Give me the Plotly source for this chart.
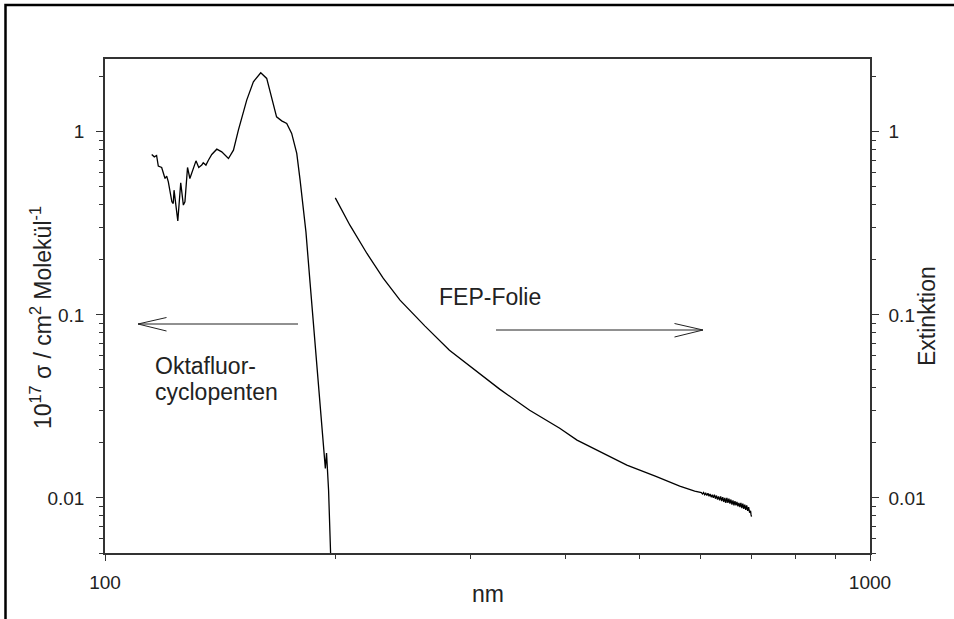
import plotly.graph_objects as go

# ---------------- data ----------------
# Oktafluorcyclopenten absorption cross section (10^17 sigma / cm^2 per molecule)
okta_nm = [115.1, 116.0, 116.8, 117.4, 118.6, 119.8, 120.4, 121.0, 122.3, 122.8,
           123.1, 123.6, 124.5, 125.6, 126.6, 127.2, 128.2, 129.1, 130.4, 131.5,
           132.6, 133.8, 134.4, 135.5, 136.5, 137.9, 140.0, 142.1, 145.0, 147.2,
           149.4, 153.2, 156.3, 159.8, 162.7, 165.2, 167.6, 170.2, 172.8, 175.4,
           178.1, 179.9, 181.5, 183.1, 185.4, 188.2, 191.0, 193.4, 194.1, 194.8,
           195.3, 196.0, 197.2, 197.7]
okta_sigma = [0.752, 0.730, 0.743, 0.650, 0.639, 0.556, 0.573, 0.533, 0.415, 0.406,
              0.480, 0.406, 0.326, 0.527, 0.398, 0.415, 0.639, 0.556, 0.623, 0.694,
              0.639, 0.658, 0.677, 0.658, 0.700, 0.752, 0.804, 0.777, 0.715, 0.794,
              1.022, 1.490, 1.876, 2.101, 1.958, 1.553, 1.208, 1.148, 1.111, 0.980,
              0.762, 0.545, 0.398, 0.283, 0.149, 0.0700, 0.0342, 0.0175, 0.0145, 0.0176,
              0.0142, 0.0110, 0.00497, 0.0040]

# FEP-Folie extinction
fep_nm = [200, 209, 220, 231, 243, 262, 282, 305, 328, 359, 393, 414, 440, 481, 524, 564,
          590, 600, 602, 604, 606, 608, 610, 612, 614, 616, 618, 620, 622, 624, 626, 628,
          630, 632, 634, 636, 638, 640, 642, 644, 646, 648, 650, 652, 654, 656, 658, 660,
          662, 664, 666, 668, 670, 672, 674, 676, 678, 680, 682, 684, 686, 688, 690, 692,
          694, 696, 698, 699, 700]
fep_ext = [0.436, 0.309, 0.2165, 0.1586, 0.1203, 0.0868, 0.0641, 0.0498, 0.0393, 0.0301,
           0.0240, 0.0207, 0.0182, 0.0151, 0.01314, 0.01159,
           0.0109, 0.01065, 0.0107, 0.0105, 0.0107, 0.0104, 0.0106, 0.0103, 0.0106, 0.0102,
           0.0105, 0.0101, 0.0104, 0.0100, 0.0104, 0.0099,
           0.0103, 0.0098, 0.0102, 0.0097, 0.0102, 0.0096, 0.0101, 0.0095, 0.0100, 0.0094,
           0.0100, 0.0094, 0.0099, 0.0093, 0.0098, 0.0092,
           0.0097, 0.0091, 0.0096, 0.0091, 0.0095, 0.0090, 0.0094, 0.0089, 0.0094, 0.0088,
           0.0093, 0.0087, 0.0092, 0.0086, 0.0091, 0.0085,
           0.0089, 0.0083, 0.0085, 0.0081, 0.0079]

x_tickvals = [100, 1000]
x_ticktext = ["100", "1000"]
x_minor = [200, 300, 400, 500, 600, 700, 800, 900]
y_tickvals = [0.01, 0.1, 1]
y_ticktext = ["0.01", "0.1", "1"]
y_minor = [0.005, 0.006, 0.007, 0.008, 0.009, 0.02, 0.03, 0.04, 0.05, 0.06, 0.07, 0.08, 0.09,
           0.2, 0.3, 0.4, 0.5, 0.6, 0.7, 0.8, 0.9, 2]

FONT = "Liberation Sans, Arial, sans-serif"
AX = "#333333"
TXT = "#222222"

# plot area in pixels (for placing decorations in paper coordinates)
L, R, T, B = 105, 870, 59, 553
W, H = 954, 619


def px(x):
    return (x - L) / (R - L)


def py(y):
    return (B - y) / (B - T)


fig = go.Figure()
fig.add_trace(go.Scatter(x=okta_nm, y=okta_sigma, mode="lines",
                         line=dict(color="black", width=1.3), yaxis="y", showlegend=False))
fig.add_trace(go.Scatter(x=fep_nm, y=fep_ext, mode="lines",
                         line=dict(color="black", width=1.3), yaxis="y2", showlegend=False))

yrange = [-2.30103, 0.39794]

common_y = dict(type="log", range=yrange, showgrid=False, zeroline=False,
                showline=True, linecolor=AX, linewidth=1.5,
                ticks="outside", ticklen=7, tickwidth=1.3, tickcolor=AX,
                tickmode="array", tickvals=y_tickvals, ticktext=y_ticktext,
                tickfont=dict(family=FONT, size=19, color=TXT),
                minor=dict(tickmode="array", tickvals=y_minor, ticks="outside",
                           ticklen=4, tickwidth=1.2, tickcolor=AX, showgrid=False))

fig.update_layout(
    width=W, height=H,
    margin=dict(l=L, r=W - R, t=T, b=H - B),
    paper_bgcolor="white", plot_bgcolor="white",
    font=dict(family=FONT, color=TXT),
    xaxis=dict(type="log", range=[2, 3], showgrid=False, zeroline=False,
               showline=True, mirror=True, linecolor=AX, linewidth=1.5,
               ticks="outside", ticklen=6, tickwidth=1.3, tickcolor=AX,
               tickmode="array", tickvals=x_tickvals, ticktext=x_ticktext,
               tickfont=dict(family=FONT, size=19, color=TXT),
               ticklabelstandoff=5,
               minor=dict(tickmode="array", tickvals=x_minor, ticks="outside",
                          ticklen=4, tickwidth=1.2, tickcolor=AX, showgrid=False)),
    yaxis=dict(**common_y, side="left", ticklabelstandoff=8),
    yaxis2=dict(**common_y, side="right", overlaying="y", ticklabelstandoff=6),
)

# axis titles placed as annotations for exact positions
title_font = dict(family=FONT, size=23, color=TXT)
fig.add_annotation(xref="paper", yref="paper", x=px(488), y=py(594), text="nm",
                   showarrow=False, xanchor="center", yanchor="middle", font=title_font)
fig.add_annotation(xref="paper", yref="paper", x=px(41), y=py(318),
                   text="10<sup>17</sup> σ / cm<sup>2</sup> Molekül<sup>-1</sup>",
                   textangle=-90, showarrow=False, xanchor="center", yanchor="middle",
                   font=title_font)
fig.add_annotation(xref="paper", yref="paper", x=px(927), y=py(316), text="Extinktion",
                   textangle=-90, showarrow=False, xanchor="center", yanchor="middle",
                   font=dict(family=FONT, size=23, color=TXT))

# outer frame (cut by the page on the right and bottom)
fig.add_shape(type="rect", xref="paper", yref="paper",
              x0=px(5.5), y0=py(H + 40), x1=px(W + 40), y1=py(5),
              line=dict(color="black", width=2.5), fillcolor="rgba(0,0,0,0)", layer="above")

# arrows (open arrowheads drawn as lines)
arrow_style = dict(color=TXT, width=1)
# left arrow
fig.add_shape(type="line", xref="paper", yref="paper", x0=px(298), y0=py(324), x1=px(138), y1=py(324), line=arrow_style)
fig.add_shape(type="line", xref="paper", yref="paper", x0=px(138), y0=py(324), x1=px(166.5), y1=py(317.5), line=arrow_style)
fig.add_shape(type="line", xref="paper", yref="paper", x0=px(138), y0=py(324), x1=px(166.5), y1=py(331), line=arrow_style)
# right arrow
fig.add_shape(type="line", xref="paper", yref="paper", x0=px(496), y0=py(330), x1=px(703), y1=py(330), line=arrow_style)
fig.add_shape(type="line", xref="paper", yref="paper", x0=px(703), y0=py(330), x1=px(674.5), y1=py(323.5), line=arrow_style)
fig.add_shape(type="line", xref="paper", yref="paper", x0=px(703), y0=py(330), x1=px(674.5), y1=py(337), line=arrow_style)

ann_font = dict(family=FONT, size=23, color=TXT)
fig.add_annotation(xref="paper", yref="paper", x=px(490), y=py(297), text="FEP-Folie",
                   showarrow=False, xanchor="center", yanchor="middle", font=ann_font)
fig.add_annotation(xref="paper", yref="paper", x=px(153), y=py(366), text="Oktafluor-",
                   showarrow=False, xanchor="left", yanchor="middle", font=ann_font)
fig.add_annotation(xref="paper", yref="paper", x=px(153), y=py(392), text="cyclopenten",
                   showarrow=False, xanchor="left", yanchor="middle", font=ann_font)

fig.write_html("out.html")
